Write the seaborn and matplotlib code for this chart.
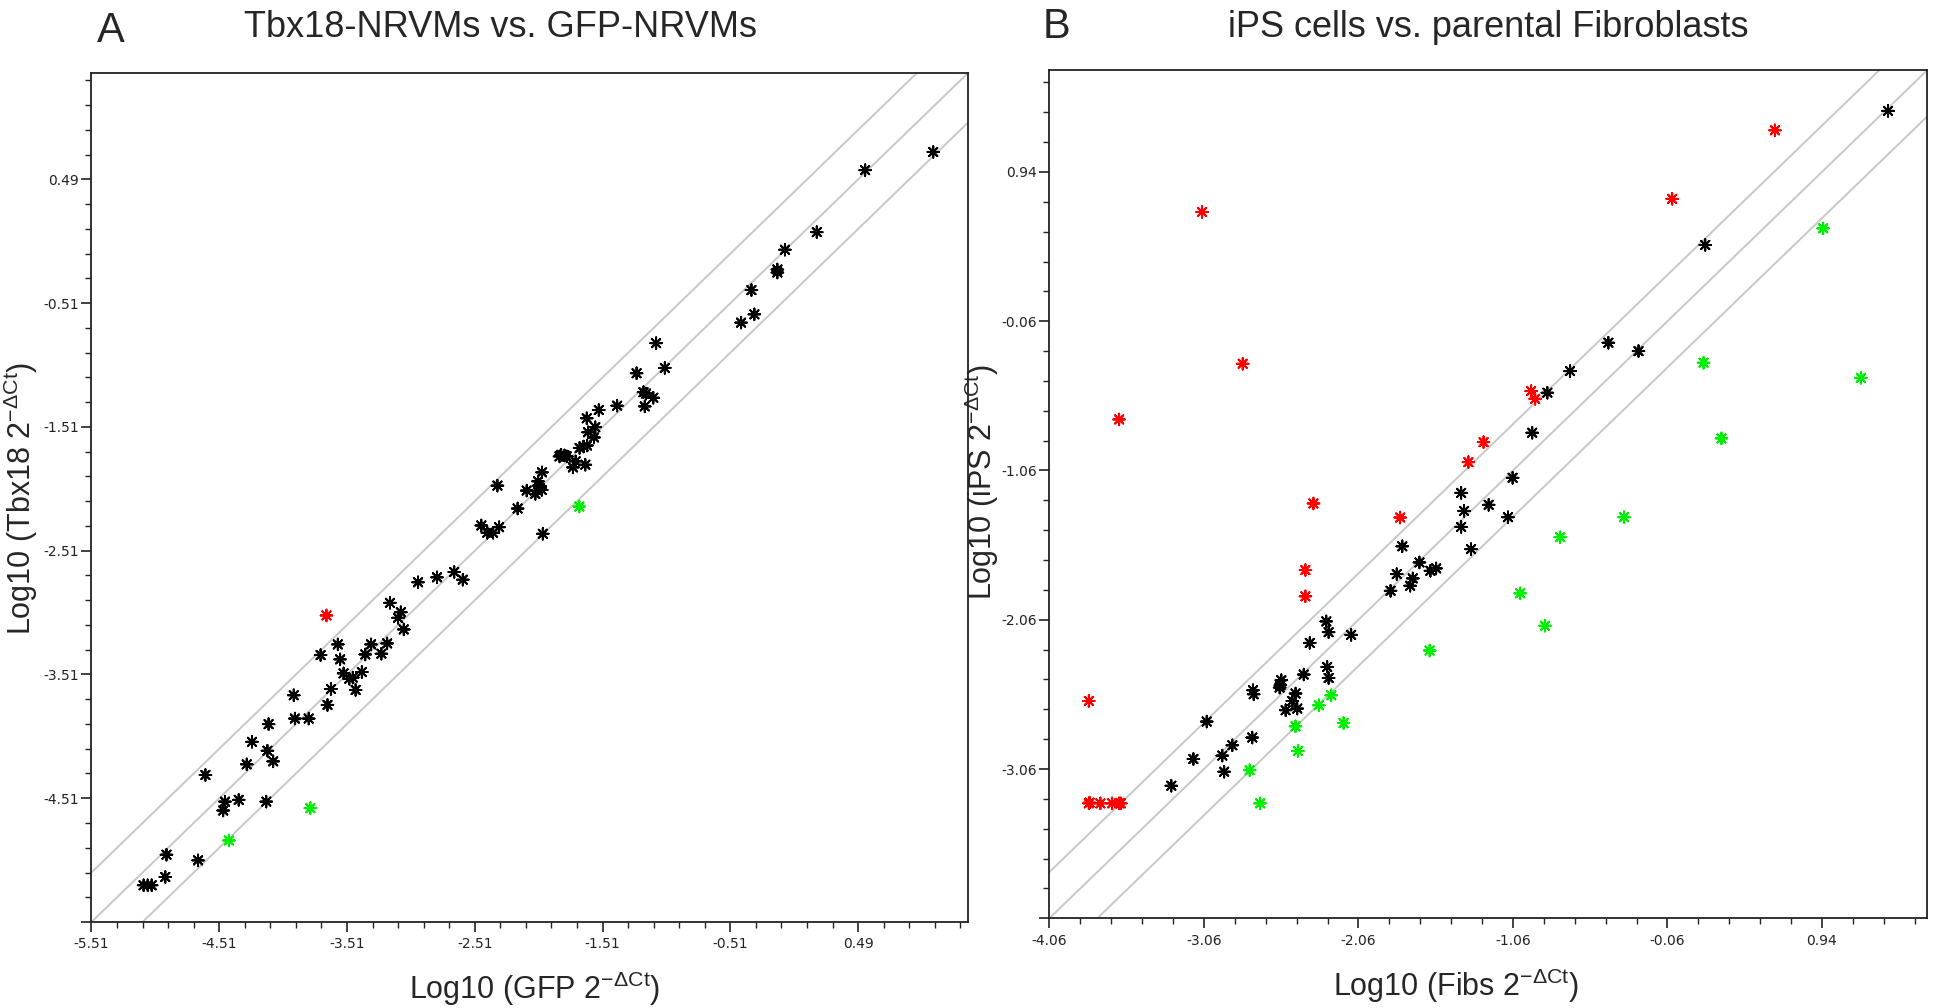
import matplotlib
matplotlib.use('Agg')
import matplotlib.pyplot as plt
import seaborn as sns
import pandas as pd
import numpy as np

# Panel A: Tbx18-NRVMs vs GFP-NRVMs (log10 2^-dCt)
a_gfp = [1.078, 0.545, 0.166, -0.083, -0.142, -0.142, -0.345, -0.322, -0.426, -1.091,
         -1.244, -1.023, -1.190, -1.170, -1.113, -1.180, -1.396, -1.540, -1.634, -1.567,
         -1.624, -1.577, -1.690, -1.658, -1.632, -1.834, -1.808, -1.790, -1.847, -1.721,
         -1.742, -1.645, -1.984, -2.015, -2.000, -1.986, -2.036, -2.104, -2.010, -2.333,
         -2.175, -2.459, -2.412, -2.367, -2.320, -1.978, -2.671, -2.604, -2.806, -2.954,
         -3.174, -3.089, -3.111, -3.066, -3.582, -3.196, -3.322, -3.367, -3.241, -3.717,
         -3.564, -3.537, -3.492, -3.465, -3.394, -3.636, -3.443, -3.927, -3.663, -3.918,
         -3.810, -4.124, -4.254, -4.133, -4.088, -4.295, -4.618, -4.465, -4.479, -4.358,
         -4.142, -4.923, -4.676, -4.932, -5.102, -5.070, -5.039,
         -3.671,
         -1.692, -3.797, -4.434]
a_tbx18 = [0.712, 0.565, 0.064, -0.078, -0.238, -0.262, -0.404, -0.600, -0.667, -0.833,
           -1.076, -1.033, -1.229, -1.240, -1.274, -1.344, -1.338, -1.373, -1.440, -1.512,
           -1.553, -1.595, -1.680, -1.668, -1.660, -1.735, -1.740, -1.748, -1.748, -1.788,
           -1.837, -1.815, -1.877, -1.949, -2.003, -2.019, -2.051, -2.024, -1.984, -1.984,
           -2.169, -2.306, -2.365, -2.365, -2.320, -2.373, -2.682, -2.744, -2.725, -2.765,
           -2.931, -3.007, -3.052, -3.146, -3.267, -3.259, -3.267, -3.348, -3.342, -3.353,
           -3.388, -3.501, -3.544, -3.535, -3.490, -3.627, -3.635, -3.678, -3.756, -3.866,
           -3.866, -3.911, -4.054, -4.126, -4.212, -4.236, -4.322, -4.537, -4.609, -4.523,
           -4.537, -4.966, -5.012, -5.146, -5.213, -5.213, -5.213,
           -3.033,
           -2.153, -4.590, -4.851]
a_status = ['same'] * 87 + ['up'] + ['down'] * 3

# Panel B: iPS cells vs parental fibroblasts
b_fibs = [1.368, 0.185, -0.442, -0.247, -0.690, -0.837, -0.935, -1.062, -1.395, -1.376,
          -1.217, -1.092, -1.395, -1.776, -1.331, -1.665, -1.594, -1.557, -1.812, -1.708,
          -1.725, -1.852, -2.268, -2.253, -2.107, -2.375, -2.262, -2.414, -2.253, -2.559,
          -2.565, -2.570, -2.742, -2.738, -2.467, -2.488, -2.531, -2.456, -3.042, -2.747,
          -2.876, -2.941, -3.128, -2.929, -3.271,
          0.636, -0.029, -3.072, -2.809, -3.609, -0.942, -0.916, -1.250, -1.348, -2.351,
          -1.790, -2.403, -2.403, -3.805, -3.805, -3.800, -3.730, -3.654, -3.609, -3.598,
          0.948, 0.174, 1.192, 0.290, -0.341, -0.754, -1.013, -0.852, -1.599, -2.236,
          -2.316, -2.156, -2.467, -2.452, -2.764, -2.696]
b_ips = [1.349, 0.451, -0.204, -0.260, -0.394, -0.539, -0.807, -1.109, -1.210, -1.331,
         -1.290, -1.373, -1.438, -1.568, -1.587, -1.676, -1.732, -1.716, -1.754, -1.783,
         -1.832, -1.866, -2.071, -2.143, -2.161, -2.215, -2.376, -2.427, -2.450, -2.465,
         -2.498, -2.514, -2.532, -2.559, -2.554, -2.604, -2.666, -2.655, -2.742, -2.849,
         -2.901, -2.970, -2.993, -3.078, -3.172,
         1.219, 0.760, 0.672, -0.345, -0.718, -0.528, -0.580, -0.870, -1.004, -1.281,
         -1.375, -1.727, -1.903, -2.604, -3.290, -3.285, -3.290, -3.290, -3.290, -3.290,
         0.562, -0.338, -0.439, -0.845, -1.373, -1.507, -1.883, -2.100, -2.266, -2.566,
         -2.633, -2.752, -2.774, -2.939, -3.068, -3.290]
b_status = ['same'] * 45 + ['up'] * 20 + ['down'] * 16

palette = {'same': '#000000', 'up': '#ff0000', 'down': '#00ee00'}

panels = [
    dict(x=a_gfp, y=a_tbx18, status=a_status, lo=-5.51, hi=1.35, band=0.40,
         xlabel='Log10 (GFP 2$^{\\mathregular{-\\Delta Ct}}$)',
         ylabel='Log10 (Tbx18 2$^{\\mathregular{-\\Delta Ct}}$)',
         rect=[0.0472, 0.0853, 0.4523, 0.8423],
         xl=(0.505, -0.079), yl=(-0.080, 0.499)),
    dict(x=b_fibs, y=b_ips, status=b_status, lo=-4.06, hi=1.62, band=0.31,
         xlabel='Log10 (Fibs 2$^{\\mathregular{-\\Delta Ct}}$)',
         ylabel='Log10 (iPS 2$^{\\mathregular{-\\Delta Ct}}$)',
         rect=[0.5415, 0.0890, 0.4528, 0.8411],
         xl=(0.463, -0.080), yl=(-0.077, 0.515)),
]

sns.set_style('white')
plt.rcParams['font.family'] = ['Liberation Sans', 'DejaVu Sans']
plt.rcParams['mathtext.fontset'] = 'custom'
plt.rcParams['mathtext.rm'] = 'Liberation Sans'

fig = plt.figure(figsize=(19.38, 10.08), dpi=100)

for p in panels:
    ax = fig.add_axes(p['rect'])
    df = pd.DataFrame({'x': p['x'], 'y': p['y'], 'status': p['status']})

    # fold-change boundary lines
    for c in (-p['band'], 0, p['band']):
        ax.axline((0, c), slope=1, color='#c8c8c8', lw=1.4, zorder=1)

    sns.scatterplot(data=df, x='x', y='y', hue='status', palette=palette, marker=(8, 2, 0),
                    s=70, linewidth=1.4, legend=False, ax=ax, zorder=3)

    ax.set_xlim(p['lo'], p['hi'])
    ax.set_ylim(p['lo'], p['hi'])
    major = np.arange(p['lo'], p['hi'] - 0.3, 1.0)
    minor = np.arange(p['lo'], p['hi'], 0.2)
    ax.set_xticks(major)
    ax.set_yticks(major)
    ax.set_xticks(minor, minor=True)
    ax.set_yticks(minor, minor=True)
    ax.set_xticklabels([f'{v:.2f}' for v in major])
    # lowest y tick carries no label in the original
    ax.set_yticklabels([''] + [f'{v:.2f}' for v in major[1:]])
    ax.tick_params(which='major', direction='out', length=7, width=1.2, labelsize=10,
                   pad=4, colors='#222222', labelfontfamily='DejaVu Sans')
    ax.tick_params(axis='y', which='major', pad=2)
    ax.tick_params(which='minor', direction='out', length=4, width=1.0, colors='#222222')
    ax.tick_params(left=True, bottom=True, which='both')
    for sp in ax.spines.values():
        sp.set_color('#222222')
        sp.set_linewidth(1.3)

    ax.set_xlabel(p['xlabel'], fontsize=22, va='center')
    ax.set_ylabel(p['ylabel'], fontsize=22, va='center')
    ax.xaxis.set_label_coords(*p['xl'])
    ax.yaxis.set_label_coords(*p['yl'])

fig.text(0.2583, 0.973, 'Tbx18-NRVMs vs. GFP-NRVMs', fontsize=26, ha='center', va='center')
fig.text(0.768, 0.973, 'iPS cells vs. parental Fibroblasts', fontsize=26, ha='center', va='center')
fig.text(0.0574, 0.969, 'A', fontsize=30, ha='center', va='center')
fig.text(0.545, 0.973, 'B', fontsize=30, ha='center', va='center')

fig.savefig('out.png', dpi=100)
